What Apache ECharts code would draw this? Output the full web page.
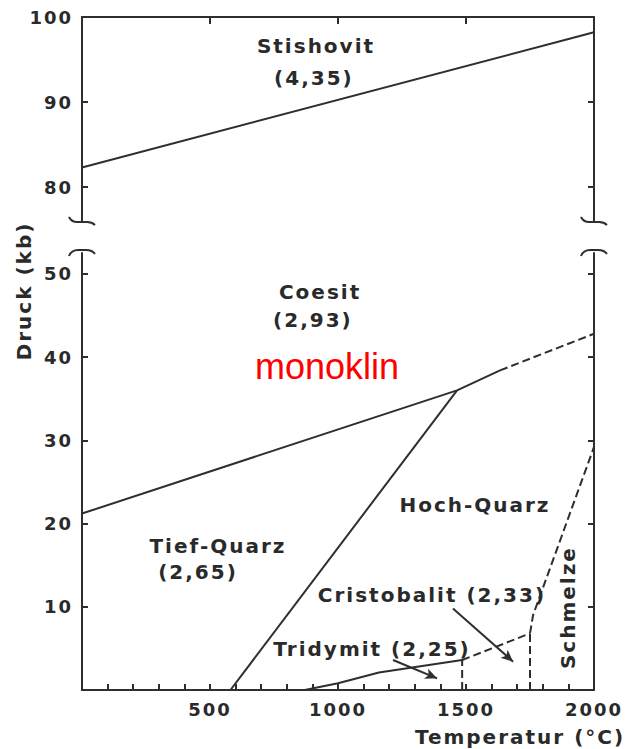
<!DOCTYPE html>
<html>
<head>
<meta charset="utf-8">
<script src="https://cdn.jsdelivr.net/npm/echarts@6/dist/echarts.min.js"></script>
<style>
  html, body { margin: 0; padding: 0; background: #ffffff; }
  #chart { width: 632px; height: 749px; }
  /* wide-set lettering for the diagram texts */
  #chart text { letter-spacing: 2px; }
  #chart text[style*="Liberation"], #chart text[fill="#ff0000"] { letter-spacing: 0; }
</style>
</head>
<body>
<div id="chart"></div>
<script>
// Phase boundaries of SiO2: [temperature °C, pressure kb]
var stishovitCoesit = [[0, 82.3], [2000, 98.2]];
var coesitQuarz = [[0, 21.2], [1465, 36.0], [1633, 38.4]];
var coesitQuarzDashed = [[1633, 38.4], [2000, 42.8]];
var tiefHochQuarz = [[580, 0], [1465, 36.0]];
var quarzTridymit = [[870, 0], [1000, 0.8], [1160, 2.1], [1485, 3.6]];
var tridymitCristobalit = [[1485, 0], [1485, 3.6]];
var quarzCristobalit = [[1485, 3.6], [1750, 6.8]];
var cristobalitSchmelze = [[1750, 0], [1750, 6.8]];
var quarzSchmelze = [[1750, 6.8], [1762, 9.0], [2000, 29.2]];

// Pointer arrows for the two narrow fields: [from, to]
var arrowCristobalit = [[1449, 9.8], [1684, 3.4]];
var arrowTridymit = [[1215, 3.6], [1387, 1.4]];

// Axis ranges and tick values
var tempMin = 0, tempMax = 2000;
var upperMin = 76, upperMax = 100;
var lowerMin = 0, lowerMax = 52.5;
var tempLabels = [500, 1000, 1500, 2000];
var tempTopTicks = [500, 1000, 1500];
var upperTicks = [80, 90, 100];
var upperRightTicks = [80, 90];
var lowerTicks = [10, 20, 30, 40, 50];

// Field names with densities, anchored in data space
var upperNotes = [
  { name: 'Stishovit', value: [914, 96.6] },
  { name: '(4,35)', value: [906, 92.8] }
];
var lowerNotes = [
  { name: 'Coesit', value: [930, 47.8] },
  { name: '(2,93)', value: [902, 44.5] },
  { name: 'Hoch-Quarz', value: [1535, 22.2] },
  { name: 'Tief-Quarz', value: [531, 17.3] },
  { name: '(2,65)', value: [453, 14.2] },
  { name: 'Cristobalit (2,33)', value: [1367, 11.4] },
  { name: 'Tridymit (2,25)', value: [1133, 4.9] }
];
var meltNote = [{ name: 'Schmelze', value: [1898, 9.9] }];
var monoklinNote = [{ name: 'monoklin', value: [957, 38.9] }];

var INK = '#2e2e2e';
var TXT = '#2a2a2a';
var FONT = 'DejaVu Sans';

var chart = echarts.init(document.getElementById('chart'), null, { renderer: 'svg' });

function boundary(data, grid, dashed) {
  return {
    type: 'line',
    xAxisIndex: grid,
    yAxisIndex: grid,
    data: data,
    symbol: 'none',
    silent: true,
    animation: false,
    lineStyle: { color: INK, width: 2, type: dashed ? [8, 4] : 'solid' }
  };
}

function notes(data, grid, extra) {
  var label = Object.assign({
    show: true,
    position: 'inside',
    formatter: '{b}',
    color: TXT,
    fontFamily: FONT,
    fontWeight: 'bold',
    fontSize: 20
  }, extra || {});
  return {
    type: 'scatter',
    xAxisIndex: grid,
    yAxisIndex: grid,
    data: data,
    symbolSize: 0,
    silent: true,
    animation: false,
    itemStyle: { opacity: 1 },
    label: label
  };
}

// Squiggle marking the broken pressure axis
function breakMark(grid, yVal, path) {
  return {
    type: 'custom',
    xAxisIndex: grid,
    yAxisIndex: grid,
    data: [[tempMin, yVal], [tempMax, yVal]],
    clip: false,
    silent: true,
    animation: false,
    renderItem: function (params, api) {
      var p = api.coord([api.value(0), api.value(1)]);
      return {
        type: 'path',
        shape: { pathData: path, x: p[0] - 13, y: p[1] - 4, width: 26, height: 8 },
        style: { stroke: INK, fill: 'none', lineWidth: 2 }
      };
    }
  };
}

var boundSeries = boundary(quarzTridymit, 1, false);
boundSeries.markLine = {
  silent: true,
  animation: false,
  symbol: ['none', 'arrow'],
  symbolSize: [8, 12],
  label: { show: false },
  lineStyle: { color: INK, width: 2, type: 'solid' },
  data: [
    [{ coord: arrowCristobalit[0] }, { coord: arrowCristobalit[1] }],
    [{ coord: arrowTridymit[0] }, { coord: arrowTridymit[1] }]
  ]
};

var plain = function (v) { return String(v); };
var tickLabel = { color: TXT, fontFamily: FONT, fontWeight: 'bold', fontSize: 18, formatter: plain };

var option = {
  backgroundColor: '#ffffff',
  animation: false,
  grid: [
    { left: 82, right: 38, top: 17, height: 204 },
    { left: 82, right: 38, top: 253, bottom: 59 }
  ],
  xAxis: [
    {
      gridIndex: 0, type: 'value', position: 'top', min: tempMin, max: tempMax,
      axisLine: { show: true, lineStyle: { color: INK, width: 2 } },
      axisTick: { show: true, inside: true, length: 7, customValues: tempTopTicks, lineStyle: { color: INK, width: 2 } },
      axisLabel: { show: false },
      splitLine: { show: false }
    },
    {
      gridIndex: 1, type: 'value', position: 'bottom', min: tempMin, max: tempMax, interval: 100,
      axisLine: { show: true, lineStyle: { color: INK, width: 2 } },
      axisTick: { show: true, inside: true, length: 6, lineStyle: { color: INK, width: 2 } },
      axisLabel: Object.assign({ customValues: tempLabels, margin: 10 }, tickLabel),
      splitLine: { show: false }
    }
  ],
  yAxis: [
    {
      gridIndex: 0, type: 'value', position: 'left', min: upperMin, max: upperMax,
      axisLine: { show: true, lineStyle: { color: INK, width: 2 } },
      axisTick: { show: true, inside: true, length: 6, customValues: upperTicks, lineStyle: { color: INK, width: 2 } },
      axisLabel: Object.assign({ customValues: upperTicks, margin: 9 }, tickLabel),
      splitLine: { show: false }
    },
    {
      gridIndex: 1, type: 'value', position: 'left', min: lowerMin, max: lowerMax,
      axisLine: { show: true, lineStyle: { color: INK, width: 2 } },
      axisTick: { show: true, inside: true, length: 6, customValues: lowerTicks, lineStyle: { color: INK, width: 2 } },
      axisLabel: Object.assign({ customValues: lowerTicks, margin: 9 }, tickLabel),
      splitLine: { show: false }
    },
    {
      gridIndex: 0, type: 'value', position: 'right', min: upperMin, max: upperMax,
      axisLine: { show: true, lineStyle: { color: INK, width: 2 } },
      axisTick: { show: true, inside: true, length: 6, customValues: upperRightTicks, lineStyle: { color: INK, width: 2 } },
      axisLabel: { show: false },
      splitLine: { show: false }
    },
    {
      gridIndex: 1, type: 'value', position: 'right', min: lowerMin, max: lowerMax,
      axisLine: { show: true, lineStyle: { color: INK, width: 2 } },
      axisTick: { show: true, inside: true, length: 6, customValues: lowerTicks, lineStyle: { color: INK, width: 2 } },
      axisLabel: { show: false },
      splitLine: { show: false }
    }
  ],
  graphic: [
    {
      type: 'text', x: 24, y: 291, rotation: Math.PI / 2,
      style: { text: 'Druck (kb)', fill: TXT, font: 'bold 20px "DejaVu Sans"', align: 'center', verticalAlign: 'middle' }
    },
    {
      type: 'text', x: 520, y: 737,
      style: { text: 'Temperatur (°C)', fill: TXT, font: 'bold 20px "DejaVu Sans"', align: 'center', verticalAlign: 'middle' }
    }
  ],
  series: [
    boundary(stishovitCoesit, 0, false),
    boundary(coesitQuarz, 1, false),
    boundary(coesitQuarzDashed, 1, true),
    boundary(tiefHochQuarz, 1, false),
    boundSeries,
    boundary(tridymitCristobalit, 1, true),
    boundary(quarzCristobalit, 1, true),
    boundary(cristobalitSchmelze, 1, true),
    boundary(quarzSchmelze, 1, true),
    notes(upperNotes, 0),
    notes(lowerNotes, 1),
    notes(meltNote, 1, { rotate: 90 }),
    notes(monoklinNote, 1, { color: '#ff0000', fontFamily: 'Liberation Sans', fontWeight: 'normal', fontSize: 36 }),
    breakMark(0, upperMin, 'M0,0 C2,4 4,5 8,5 L18,5 C22,5 24,6 26,8'),
    breakMark(1, lowerMax, 'M0,8 C2,3 5,2 9,2 L17,2 C21,2 24,3 26,6')
  ]
};

chart.setOption(option);
</script>
</body>
</html>
